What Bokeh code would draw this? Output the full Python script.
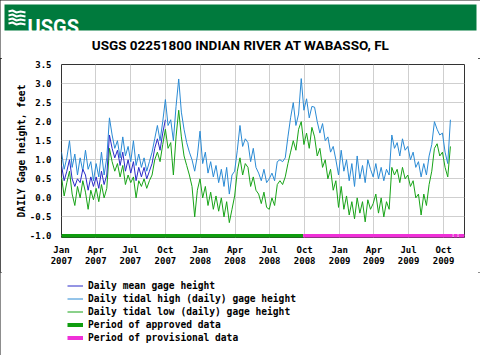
import pandas as pd
from bokeh.plotting import figure
from bokeh.models import (Range1d, FixedTicker, Legend, LegendItem,
                          NumeralTickFormatter)
from bokeh.layouts import column
from bokeh.embed import file_html
from bokeh.resources import INLINE
from bokeh.core.properties import value

TITLE = "USGS 02251800 INDIAN RIVER AT WABASSO, FL"
Y_LABEL = "DAILY Gage height, feet"

# weekly readings (from 2007-01-01, every 7 days)
series_start = "2007-01-01"
high = [1.2, 0.75, 1.05, 1.5, 0.8,
        1.15, 0.6, 1.05, 0.7,
        1.25, 0.75, 0.95, 0.45,
        0.9, 0.55, 1.2, 0.6, 1.05,
        2.1, 1.65, 1.3, 1.5,
        1.05, 1.6, 1.1, 1.35,
        0.95, 1.5, 0.85, 1.15, 0.8,
        1.05, 0.7, 0.95, 1.2,
        1.55, 1.9, 1.5, 2.0,
        2.58, 1.9, 2.05, 1.5, 2.4,
        3.12, 2.25, 1.8, 1.45,
        1.2, 1.0, 0.7, 1.1,
        1.75, 0.9, 1.2, 0.65, 0.95,
        0.55, 0.85, 0.4, 0.75,
        0.3, 0.8, 0.1, 0.6,
        0.7, 1.25, 1.9, 1.35, 1.55,
        1.45, 0.95, 1.3, 0.8,
        0.65, 0.45, 0.75, 0.4,
        0.5, 0.65, 0.45, 0.95, 1.0,
        0.95, 1.05, 1.6, 2.1,
        2.5, 1.9, 2.2, 3.13,
        2.3, 2.6, 2.1, 2.4, 2.38,
        2.0, 1.7, 1.95, 1.5,
        1.6, 1.2, 1.35, 1.0,
        0.6, 1.25, 0.7, 1.0, 0.45,
        0.9, 0.3, 1.1, 0.5,
        0.85, 0.4, 1.0, 0.75,
        0.55, 0.9, 0.5, 0.8, 0.45,
        0.75, 0.6, 1.65, 1.3,
        1.45, 1.1, 1.55, 1.25,
        1.35, 1.0, 1.2, 0.8, 0.95,
        0.55, 0.9, 0.6, 1.1,
        1.4, 2.0, 1.8, 1.65,
        1.7, 1.2, 0.9, 2.05]
low = [0.55, 0.05, 0.4, 0.7, 0.1,
       -0.2, 0.3, 0.0, 0.45,
       0.15, -0.3, 0.2, -0.05,
       0.25, -0.1, 0.35, 0.0, 0.25,
       1.3, 0.95, 0.7, 0.9,
       0.55, 0.85, 0.35, 0.6,
       0.4, 0.55, 0.0, 0.45, 0.3,
       0.5, 0.25, 0.45, 0.6,
       1.0, 1.2, 0.95, 1.4,
       1.8, 1.3, 1.45, 0.6, 1.6,
       2.3, 1.6, 1.1, 0.85,
       0.6, 0.3, -0.5, 0.2,
       0.5, 0.0, 0.3, -0.2, 0.15,
       -0.3, 0.05, -0.35, 0.0,
       -0.5, -0.1, -0.65, -0.3,
       0.05, 0.7, 1.05, 0.6, 0.9,
       0.8, 0.3, 0.55, 0.2,
       0.1, -0.15, 0.15, -0.25,
       -0.3, 0.0, -0.2, 0.35, 0.45,
       0.35, 0.55, 0.9, 1.2,
       1.5, 1.25, 1.8, 2.0,
       1.4, 1.7, 1.3, 1.85, 1.6,
       1.1, 1.3, 0.8, 1.0,
       0.5, 0.75, 0.2, 0.45,
       -0.25, 0.3, -0.3, 0.05, -0.45,
       -0.1, -0.55, 0.0, -0.4,
       -0.1, -0.63, -0.05, -0.3,
       -0.15, 0.1, -0.4, 0.0, -0.5,
       -0.1, -0.3, 0.8, 0.6,
       0.75, 0.4, 0.8, 0.5,
       0.6, 0.3, 0.45, 0.0, 0.1,
       -0.45, 0.1, -0.2, 0.35,
       0.7, 1.3, 1.42, 1.1,
       1.2, 0.8, 0.55, 1.35]
mean = [0.85, 0.45, 0.7, 1.0, 0.5, 0.3, 0.5, 0.4, 0.75, 0.6,
        0.2, 0.55, 0.3, 0.55, 0.25, 0.7, 0.35, 0.6, 1.65, 1.3,
        1.05, 1.25, 0.85, 1.2, 0.7, 1.0, 0.65, 0.95, 0.45, 0.8,
        0.55, 0.8, 0.5, 0.7, 0.9, 1.3, 1.55, 1.25, 1.7, 2.05]

approved_periods = [("2007-01-01", "2008-09-27")]
provisional_periods = [("2008-09-27", "2009-10-25"),
                       ("2009-10-27", "2009-11-07"),
                       ("2009-11-09", "2009-11-25")]
period_level = -1.0

tick_dates = ["2007-01-01", "2007-04-01", "2007-07-01", "2007-10-01",
              "2008-01-01", "2008-04-01", "2008-07-01", "2008-10-01",
              "2009-01-01", "2009-04-01", "2009-07-01", "2009-10-01"]
tick_labels = ["Jan\n2007", "Apr\n2007", "Jul\n2007", "Oct\n2007",
               "Jan\n2008", "Apr\n2008", "Jul\n2008", "Oct\n2008",
               "Jan\n2009", "Apr\n2009", "Jul\n2009", "Oct\n2009"]
y_ticks = [-1.0, -0.5, 0.0, 0.5, 1.0, 1.5, 2.0, 2.5, 3.0, 3.5]

legend_labels = ["Daily mean gage height",
                 "Daily tidal high (daily) gage height",
                 "Daily tidal low (daily) gage height",
                 "Period of approved data",
                 "Period of provisional data"]

x_start, x_end = "2007-01-01", "2009-11-25"

GREEN_BANNER = "#007a3d"
C_MEAN = "#2a2ac8"
C_HIGH = "#2a8ad4"
C_LOW = "#17a317"
C_APPR = "#0f9d0f"
C_PROV = "#f030d8"
MONO = "DejaVu Sans Mono"


def ms(d):
    return pd.Timestamp(d).value / 1e6


def no_align(fig):
    try:
        fig.frame_align = False
    except Exception:
        pass


dates = pd.date_range(series_start, periods=len(high), freq="7D")
mean_dates = dates[:len(mean)]

# ---------------- banner + title ----------------
top = figure(width=480, height=58, x_range=Range1d(0, 480), y_range=Range1d(58, 0),
             toolbar_location=None, output_backend="svg", min_border=0,
             x_axis_location=None, y_axis_location=None)
no_align(top)
top.grid.visible = False
top.outline_line_color = None
top.quad(left=4, right=476, top=4, bottom=30, fill_color=GREEN_BANNER, line_color=None)
# logo waves
top.multi_line(xs=[[8, 12, 16, 20, 25], [8, 12, 16, 20, 25], [8, 12, 16, 20, 25], [8, 12, 16, 20, 25]],
               ys=[[11, 10, 12, 11, 12], [15, 14, 16, 15, 16], [19, 18, 20, 19, 20], [23, 22, 24, 23, 24]],
               line_color="white", line_width=2)
top.text(x=[27], y=[26], text=["USGS"], text_font=value("Roboto"), text_font_style="bold",
         text_font_size="20px", text_color="white", text_baseline="alphabetic")
top.text(x=[240], y=[44.5], text=[TITLE], text_font=value("Roboto"), text_font_style="bold",
         text_font_size="13.5px", text_color="black", text_align="center",
         text_baseline="middle")

# ---------------- main chart ----------------
p = figure(width=480, height=214, x_axis_type="datetime",
           x_range=Range1d(ms(x_start), ms(x_end)), y_range=Range1d(-1.04, 3.5),
           toolbar_location=None, output_backend="svg",
           min_border_left=61, min_border_right=16, min_border_top=6, min_border_bottom=35)
no_align(p)

p.line(dates, high, line_color=C_HIGH, line_width=1)
p.line(dates, low, line_color=C_LOW, line_width=1)
p.line(mean_dates, mean, line_color=C_MEAN, line_width=1)

p.segment(x0=[pd.Timestamp(a) for a, b in approved_periods], y0=[period_level] * len(approved_periods),
          x1=[pd.Timestamp(b) for a, b in approved_periods], y1=[period_level] * len(approved_periods),
          line_color=C_APPR, line_width=4)
p.segment(x0=[pd.Timestamp(a) for a, b in provisional_periods], y0=[period_level] * len(provisional_periods),
          x1=[pd.Timestamp(b) for a, b in provisional_periods], y1=[period_level] * len(provisional_periods),
          line_color=C_PROV, line_width=4)

tick_ms = [ms(d) for d in tick_dates]
xt = FixedTicker(ticks=tick_ms)
p.xaxis.ticker = xt
p.xgrid.ticker = xt
p.xaxis.major_label_overrides = {t: lab for t, lab in zip(tick_ms, tick_labels)}
yt = FixedTicker(ticks=y_ticks)
p.yaxis.ticker = yt
p.ygrid.ticker = yt
p.yaxis.formatter = NumeralTickFormatter(format="0.0")

for ax in (p.xaxis, p.yaxis):
    ax.axis_line_color = None
    ax.major_tick_line_color = None
    ax.minor_tick_line_color = None
    ax.major_label_text_font = MONO
    ax.major_label_text_font_style = "bold"
    ax.major_label_text_font_size = "9px"
    ax.major_label_text_color = "black"
p.xaxis.major_label_standoff = 1
p.xaxis.major_label_text_line_height = 1.12
p.yaxis.major_label_standoff = 4
p.yaxis.axis_label = Y_LABEL
p.yaxis.axis_label_text_font = MONO
p.yaxis.axis_label_text_font_style = "bold"
p.yaxis.axis_label_text_font_size = "9.6px"
p.yaxis.axis_label_text_color = "black"
p.yaxis.axis_label_standoff = 0

p.grid.grid_line_color = "#cfcfcf"
p.grid.grid_line_width = 1
p.outline_line_color = "#333333"
p.outline_line_width = 1

# ---------------- legend ----------------
leg = figure(width=480, height=83, x_range=Range1d(0, 1), y_range=Range1d(0, 1),
             toolbar_location=None, output_backend="svg", min_border=0,
             x_axis_location=None, y_axis_location=None)
no_align(leg)
leg.grid.visible = False
leg.outline_line_color = None
styles = [(C_MEAN, 1), (C_HIGH, 1), (C_LOW, 1), (C_APPR, 4), (C_PROV, 4)]
items = []
for lab, (col, w) in zip(legend_labels, styles):
    # placeholder renderer outside the visible range: only its legend swatch shows
    r = leg.line(x=[5, 6], y=[5, 6], line_color=col, line_width=w)
    items.append(LegendItem(label=lab, renderers=[r]))
legend = Legend(items=items, location=(67, 11), orientation="vertical",
                padding=0, margin=0, spacing=0,
                glyph_width=16, glyph_height=13, label_height=13, label_standoff=5,
                label_text_font=MONO, label_text_font_style="bold",
                label_text_font_size="9.6px", label_text_color="black",
                border_line_color=None, background_fill_alpha=0)
leg.add_layout(legend)

layout = column(top, p, leg, spacing=0,
                styles={"outline": "2px solid #1a1a1a", "outline-offset": "-2px"})
open("out.html", "w").write(file_html(layout, INLINE))
